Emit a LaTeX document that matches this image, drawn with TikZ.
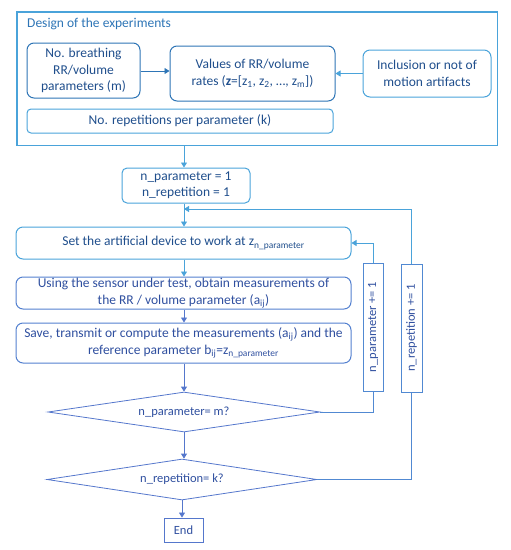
\documentclass[tikz,border=0pt]{standalone}
\usepackage{fontspec}
\setmainfont{Carlito}
\usetikzlibrary{shapes.geometric,arrows.meta,calc}
\definecolor{lblue}{HTML}{4AA3DA}
\definecolor{dblue}{HTML}{2E75B6}
\definecolor{pblue}{HTML}{5577CC}
\definecolor{txt}{HTML}{1F4E8C}
\definecolor{txtp}{HTML}{2F4F9F}
\tikzset{
  fnt/.style={font=\fontsize{13.5}{16.8}\selectfont},
  sfnt/.style={font=\fontsize{12.5}{15}\selectfont},
  rbox/.style={draw, rounded corners=7pt, line width=1pt, align=center, inner sep=1pt, fnt, text=txt},
  sqbox/.style={draw, line width=0.9pt, align=center, inner sep=1pt, fnt, text=txtp},
  dia/.style={draw=pblue, diamond, aspect=6.8, line width=0.8pt, inner sep=0pt},
  arr/.style={-{Triangle[length=5pt,width=6pt]}, line width=0.8pt},
  ln/.style={line width=0.8pt}
}
\begin{document}
\begin{tikzpicture}[x=1pt,y=-1pt]
\useasboundingbox (0,0) rectangle (511,550);
% design frame
\node[minimum width=480pt, minimum height=133pt, anchor=north west, inner sep=0pt] (design) at (17,12) {};
\draw[draw=lblue, line width=1.3pt] (design.north west) rectangle (design.south east);
\node[anchor=west, text=dblue, fnt, inner sep=0pt] (title) at (27,24) {Design of the experiments};
\node[rbox, draw=dblue, minimum width=113pt, minimum height=55pt] (b1) at (83.5,70.5) {No. breathing\\RR/volume\\parameters (m)};
\node[rbox, draw=dblue, minimum width=165pt, minimum height=55pt] (b2) at (252.5,73.5) {Values of RR/volume\\rates (\textbf{z}=[z\textsubscript{1}, z\textsubscript{2}, …, z\textsubscript{m}])};
\node[rbox, draw=lblue, minimum width=128pt, minimum height=47pt] (b3) at (427,73.5) {Inclusion or not of\\motion artifacts};
\node[rbox, draw=lblue, rounded corners=4pt, minimum width=306pt, minimum height=24pt] (b4) at (180,121) {No. repetitions per parameter (k)};
\draw[arr, dblue] (b1.east |- 0,71) -- (b2.west |- 0,71);
\draw[arr, lblue] (b3.west) -- (b3.west -| b2.east);
% main flow
\node[rbox, draw=lblue, rounded corners=5pt, minimum width=128pt, minimum height=35pt, font=\fontsize{13.5}{16}\selectfont] (init) at (186,185.5) {n\_parameter = 1\\n\_repetition = 1};
\node[rbox, draw=lblue, minimum width=335pt, minimum height=32pt] (set) at (183.5,243) {Set the artificial device to work at z\textsubscript{n\_parameter}};
\node[rbox, draw=pblue!80!lblue, minimum width=335pt, minimum height=32pt, text=txtp] (using) at (183.5,293) {Using the sensor under test, obtain measurements of\\the RR / volume parameter (a\textsubscript{ij})};
\node[rbox, draw=pblue!80!lblue, minimum width=335pt, minimum height=40pt, text=txtp] (save) at (183.5,343) {Save, transmit or compute the measurements (a\textsubscript{ij}) and the\\reference parameter b\textsubscript{ij}=z\textsubscript{n\_parameter}};
\node[dia, minimum width=272pt, minimum height=40pt] (d1) at (184,412) {};
\node[text=txtp, sfnt] (d1t) at (184,412) {n\_parameter= m?};
\node[dia, minimum width=270pt, minimum height=41pt] (d2) at (182,479.5) {};
\node[text=txtp, sfnt] (d2t) at (182,479.5) {n\_repetition= k?};
\node[sqbox, draw=pblue, minimum width=39pt, minimum height=24pt, sfnt] (end) at (183.5,530) {End};
\node[sqbox, draw=pblue!60!lblue, minimum width=128pt, minimum height=20pt, rotate=90, sfnt] (np) at (373,327) {n\_parameter += 1};
\node[sqbox, draw=pblue!60!lblue, minimum width=128pt, minimum height=21pt, rotate=90, sfnt] (nr) at (411.5,328) {n\_repetition += 1};
\coordinate (join) at (184,209);
\draw[arr, lblue] (design.south -| 184,0) -- (init.north -| 184,0);
\draw[arr, lblue] (init.south -| 184,0) -- (set.north -| 184,0);
\draw[arr, lblue] (set.south -| 184,0) -- (using.north -| 184,0);
\draw[arr, pblue] (using.south -| 184,0) -- (save.north -| 184,0);
\draw[arr, pblue] (save.south -| 184,0) -- (d1.north -| 184,0);
\draw[arr, pblue] (d1.south) -- (d1.south |- d2.north);
\draw[arr, pblue] (d2.south) -- (d2.south |- end.north);
\draw[ln, pblue!60!lblue] (d1.east) -| (np.west);
\draw[arr, lblue] (np.east) |- (set.east);
\draw[ln, pblue!60!lblue] (d2.east) -| (nr.west);
\draw[arr, lblue] (nr.east) |- (join);
\end{tikzpicture}
\end{document}
